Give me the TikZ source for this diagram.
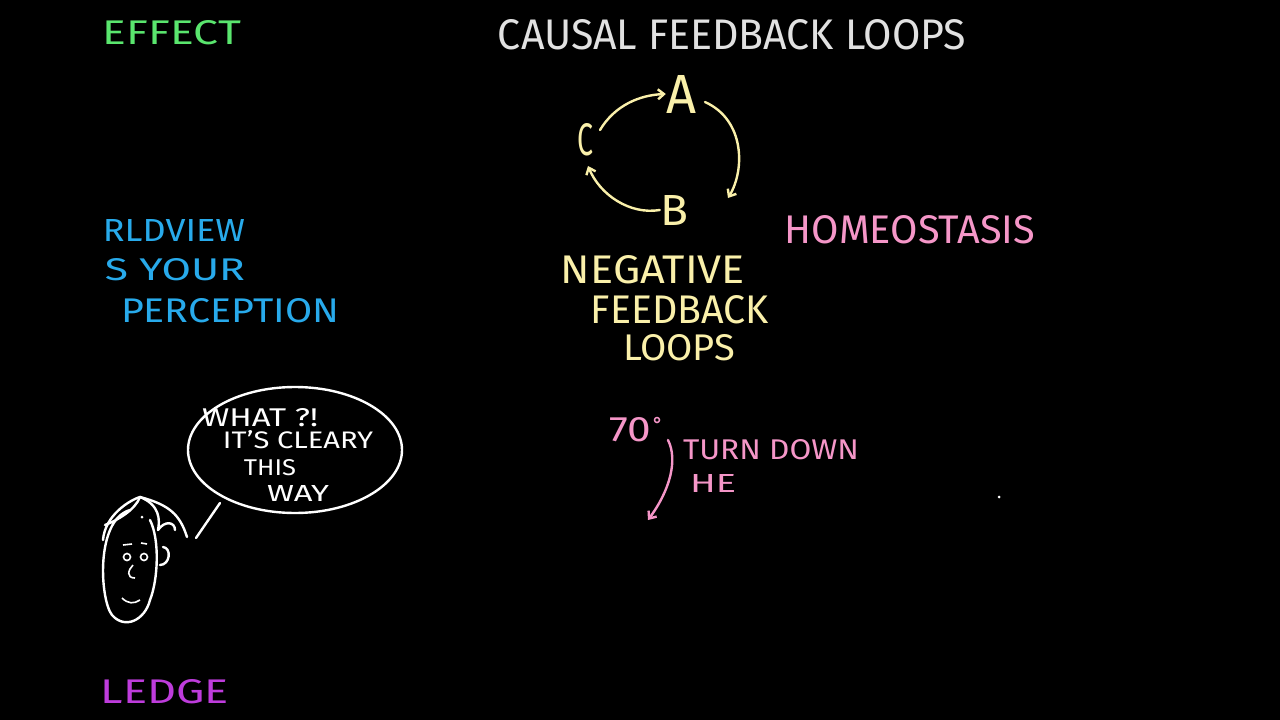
\documentclass[tikz,border=0pt]{standalone}
\usepackage{fontspec}
\setmainfont{Fira Sans}
\usetikzlibrary{arrows.meta}
\definecolor{chgreen}{RGB}{90,230,110}
\definecolor{chgray}{RGB}{225,225,225}
\definecolor{chblue}{RGB}{40,170,235}
\definecolor{chpink}{RGB}{245,150,200}
\definecolor{chyellow}{RGB}{250,240,170}
\definecolor{chpurple}{RGB}{190,60,220}
\newcommand{\hx}[3]{\resizebox{#1pt}{#2pt}{#3}}
\tikzset{chalk/.style={line width=2.4pt,line cap=round,line join=round},
  lbl/.style={inner sep=0pt},
  tip/.style={-{Straight Barb[length=6pt,width=10pt]}}}
\begin{document}
\begin{tikzpicture}[x=1pt,y=-1pt]
\fill[black] (0,0) rectangle (1280,720);
\useasboundingbox (0,0) rectangle (1280,720);
% titles
\node[lbl,text=chgreen] (eff) at (172,33) {\hx{138}{24}{EFFECT}};
\node[lbl,text=chgray] (title) at (732,35) {\hx{468}{30}{CAUSAL FEEDBACK LOOPS}};
\node[lbl,text=chblue] (w1) at (174,230) {\hx{142}{22}{RLDVIEW}};
\node[lbl,text=chblue] (w2) at (175,270) {\hx{140}{22}{S YOUR}};
\node[lbl,text=chblue] (w3) at (230,311) {\hx{218}{24}{PERCEPTION}};
\node[lbl,text=chpink] (homeo) at (910,230) {\hx{250}{28}{HOMEOSTASIS}};
\node[lbl,text=chyellow] (n1) at (653,270) {\hx{184}{28}{NEGATIVE}};
\node[lbl,text=chyellow] (n2) at (680,310) {\hx{178}{28}{FEEDBACK}};
\node[lbl,text=chyellow] (n3) at (679,348) {\hx{112}{26}{LOOPS}};
\node[lbl,text=chpurple] (kn) at (165,692) {\hx{128}{24}{LEDGE}};
% loop
\node[lbl,text=chyellow] (A) at (681,94) {\hx{30}{38}{A}};
\node[lbl,text=chyellow] (B) at (674,210) {\hx{28}{30}{B}};
\node[lbl,text=chyellow] (C) at (585,140) {\hx{16}{32}{C}};
\draw[chalk,chyellow,tip] (600,130) .. controls (615,105) and (640,95) .. (A.west);
\draw[chalk,chyellow,tip] (705,102) .. controls (745,120) and (745,170) .. (728,198);
\draw[chalk,chyellow,tip] (B.west) .. controls (630,215) and (600,195) .. (588,166);
% pink note
\node[lbl,text=chpink] (t70) at (630,430) {\hx{42}{24}{70}};
\draw[chpink,line width=1.5pt] (657,420) circle (2.5);
\node[lbl,text=chpink] (turn) at (771,450) {\hx{176}{20}{TURN DOWN}};
\node[lbl,text=chpink] (he) at (713,483) {\hx{46}{18}{HE}};
\coordinate (arrE) at (648,520);
\draw[chalk,chpink,tip] (668,440) .. controls (678,460) and (670,490) .. (arrE);
\fill[white] (999,497) circle (1.5);
% speech bubble
\draw[chalk,white] (295,450) ellipse (107 and 63);
\node[lbl,text=white] (s1) at (260,418) {\hx{116}{18}{WHAT ?!}};
\node[lbl,text=white] (s2) at (298,440) {\hx{150}{18}{IT'S CLEARY}};
\node[lbl,text=white] (s3) at (270,468) {\hx{52}{16}{THIS}};
\node[lbl,text=white] (s4) at (298,493) {\hx{62}{16}{WAY}};
\draw[chalk,white] (220,503) -- (196,538);
% face
\draw[chalk,white] (130,510) .. controls (95,520) and (100,600) .. (112,615)
  .. controls (125,630) and (145,620) .. (150,600) .. controls (158,580) and (160,540) .. (150,520);
\draw[chalk,white] (103,540) .. controls (105,515) and (130,500) .. (140,497) .. controls (160,505) and (160,520) .. (158,530);
\draw[chalk,white] (140,497) .. controls (170,505) and (180,515) .. (187,537);
\draw[chalk,white] (140,497) .. controls (135,510) and (118,520) .. (105,525);
\draw[chalk,white] (158,530) .. controls (165,520) and (175,522) .. (175,530);
\fill[white] (142,517) circle (1.5);
\draw[line width=1.6pt,white] (127,557) circle (3.5);
\draw[line width=1.6pt,white] (144,557) circle (3.5);
\draw[line width=1.6pt,white] (123,545) -- (132,544);
\draw[line width=1.6pt,white] (141,543) -- (147,544);
\draw[chalk,white] (163,547) .. controls (172,548) and (170,565) .. (160,565);
\draw[line width=1.6pt,white] (133,565) .. controls (128,570) and (126,578) .. (135,578);
\draw[line width=1.6pt,white] (122,598) .. controls (128,604) and (134,604) .. (140,600);
\end{tikzpicture}
\end{document}
